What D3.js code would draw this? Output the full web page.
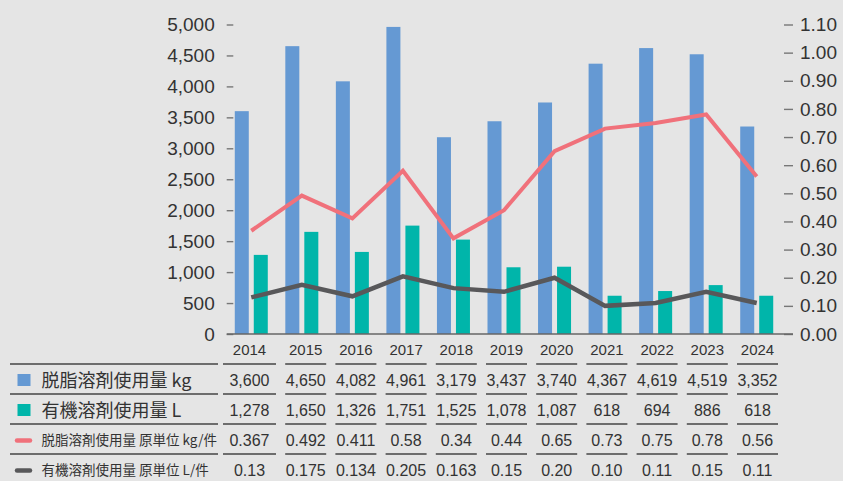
<!DOCTYPE html>
<html>
<head>
<meta charset="utf-8">
<script src="https://cdn.jsdelivr.net/npm/d3@7"></script>
<style>
  body { margin: 0; background: #e5e5e5; }
  svg { display: block; }
</style>
</head>
<body>
<script>
const wdth = 843;
const hght = 481;

// data
const years = ["2014", "2015", "2016", "2017", "2018", "2019", "2020", "2021", "2022", "2023", "2024"];
const degreaseKg = [3600, 4650, 4082, 4961, 3179, 3437, 3740, 4367, 4619, 4519, 3352];
const organicL = [1278, 1650, 1326, 1751, 1525, 1078, 1087, 618, 694, 790, 618];
const degreaseRate = [0.367, 0.492, 0.411, 0.58, 0.34, 0.44, 0.65, 0.73, 0.75, 0.78, 0.56];
const organicRate = [0.13, 0.175, 0.134, 0.205, 0.163, 0.15, 0.20, 0.10, 0.11, 0.15, 0.11];

const leftTicks = [0, 500, 1000, 1500, 2000, 2500, 3000, 3500, 4000, 4500, 5000];
const rightTicks = [0, 0.1, 0.2, 0.3, 0.4, 0.5, 0.6, 0.7, 0.8, 0.9, 1.0, 1.1];

const tableRows = [
  { label: "脱脂溶剤使用量 kg", mark: "rect", color: "#6599d3", big: true,
    cells: ["3,600", "4,650", "4,082", "4,961", "3,179", "3,437", "3,740", "4,367", "4,619", "4,519", "3,352"] },
  { label: "有機溶剤使用量 L", mark: "rect", color: "#00b5aa", big: true,
    cells: ["1,278", "1,650", "1,326", "1,751", "1,525", "1,078", "1,087", "618", "694", "886", "618"] },
  { label: "脱脂溶剤使用量 原単位 kg/件", mark: "line", color: "#f0717b", big: false,
    cells: ["0.367", "0.492", "0.411", "0.58", "0.34", "0.44", "0.65", "0.73", "0.75", "0.78", "0.56"] },
  { label: "有機溶剤使用量 原単位 L/件", mark: "line", color: "#58585a", big: false,
    cells: ["0.13", "0.175", "0.134", "0.205", "0.163", "0.15", "0.20", "0.10", "0.11", "0.15", "0.11"] }
];

const latinFont = "'Liberation Sans', Arial, sans-serif";
const cjkFont = "'Noto Sans CJK JP', sans-serif";
const textColor = "#333";

const plotLeft = 226.7;
const plotRight = 793;
const plotTop = 24.5;
const plotBottom = 334;

const svg = d3.select("body")
  .append("svg")
  .attr("width", wdth)
  .attr("height", hght);

svg.append("rect")
  .attr("width", wdth)
  .attr("height", hght)
  .attr("fill", "#e5e5e5");

// scales
const xBand = d3.scaleBand()
  .domain(years)
  .range([226, 782]);

const xSub = d3.scaleBand()
  .domain(["kg", "L"])
  .range([-16.5, 16.5])
  .paddingInner(0.263);

const yLeft = d3.scaleLinear().domain([0, 5000]).range([plotBottom, plotTop]);
const yRight = d3.scaleLinear().domain([0, 1.1]).range([plotBottom, plotTop]);

const tableX = d3.scalePoint().domain(years).range([255.5, 757.5]);
const colHalf = 20.5;
const colStart = (d, i) => i === 0 ? 223 : tableX(d) - colHalf;
const colEnd = (d) => tableX(d) + colHalf;
const colMid = (d, i) => (colStart(d, i) + colEnd(d)) / 2;

const center = (d) => xBand(d) + xBand.bandwidth() / 2;

// left axis
const leftAxis = svg.append("g")
  .attr("transform", "translate(233.3,0)")
  .call(d3.axisLeft(yLeft).tickValues(leftTicks).tickFormat(d3.format(",")).tickSize(6.6).tickPadding(12));
leftAxis.select(".domain").remove();
leftAxis.selectAll(".tick line").attr("stroke", "#777").attr("stroke-width", 1.4);
leftAxis.selectAll(".tick text")
  .attr("fill", textColor)
  .style("font-family", latinFont)
  .style("font-size", "19px");

// right axis
const rightAxis = svg.append("g")
  .attr("transform", "translate(784,0)")
  .call(d3.axisRight(yRight).tickValues(rightTicks).tickFormat(d3.format(".2f")).tickSize(9).tickPadding(7));
rightAxis.select(".domain").remove();
rightAxis.selectAll(".tick line").attr("stroke", "#777").attr("stroke-width", 1.4);
rightAxis.selectAll(".tick text")
  .attr("fill", textColor)
  .style("font-family", latinFont)
  .style("font-size", "19px");

// bars
svg.append("g")
  .selectAll("rect")
  .data(years)
  .enter()
  .append("rect")
  .attr("x", (d) => center(d) + xSub("kg"))
  .attr("width", xSub.bandwidth())
  .attr("y", (d, i) => yLeft(degreaseKg[i]))
  .attr("height", (d, i) => yLeft(0) - yLeft(degreaseKg[i]))
  .attr("fill", tableRows[0].color);

svg.append("g")
  .selectAll("rect")
  .data(years)
  .enter()
  .append("rect")
  .attr("x", (d) => center(d) + xSub("L"))
  .attr("width", xSub.bandwidth())
  .attr("y", (d, i) => yLeft(organicL[i]))
  .attr("height", (d, i) => yLeft(0) - yLeft(organicL[i]))
  .attr("fill", tableRows[1].color);

// baseline
svg.append("line")
  .attr("x1", plotLeft)
  .attr("x2", plotRight)
  .attr("y1", yLeft(0))
  .attr("y2", yLeft(0))
  .attr("stroke", "#666")
  .attr("stroke-width", 1.5);

// lines
const rateLine = (values) => d3.line()
  .x((d) => center(d))
  .y((d, i) => yRight(values[i]))(years);

svg.append("path")
  .attr("d", rateLine(degreaseRate))
  .attr("fill", "none")
  .attr("stroke", tableRows[2].color)
  .attr("stroke-width", 4);

svg.append("path")
  .attr("d", rateLine(organicRate))
  .attr("fill", "none")
  .attr("stroke", tableRows[3].color)
  .attr("stroke-width", 4.5);

// year labels
svg.append("g")
  .selectAll("text")
  .data(years)
  .enter()
  .append("text")
  .text((d) => d)
  .attr("x", colMid)
  .attr("y", 350)
  .attr("dy", "0.35em")
  .attr("text-anchor", "middle")
  .attr("fill", textColor)
  .style("font-family", latinFont)
  .style("font-size", "15px");

// data table
const rowTop = 364;
const rowH = 30;

const rows = svg.append("g")
  .selectAll("g")
  .data(tableRows)
  .enter()
  .append("g")
  .attr("transform", (d, i) => "translate(0," + (rowTop + rowH * i) + ")");

rows.append("line")
  .attr("x1", 10)
  .attr("x2", 218)
  .attr("stroke", "#444")
  .attr("stroke-width", 1.3);

rows.selectAll(".col-line")
  .data(years)
  .enter()
  .append("line")
  .attr("class", "col-line")
  .attr("x1", colStart)
  .attr("x2", colEnd)
  .attr("stroke", "#444")
  .attr("stroke-width", 1.3);

rows.filter((d) => d.mark === "rect")
  .append("rect")
  .attr("x", 17.5)
  .attr("y", 10)
  .attr("width", 13)
  .attr("height", 12)
  .attr("fill", (d) => d.color);

rows.filter((d) => d.mark === "line")
  .append("line")
  .attr("x1", 17)
  .attr("x2", 30)
  .attr("y1", 16.5)
  .attr("y2", 16.5)
  .attr("stroke", (d) => d.color)
  .attr("stroke-width", 4.5)
  .attr("stroke-linecap", "round");

rows.append("text")
  .text((d) => d.label)
  .attr("x", 41.5)
  .attr("y", 16.5)
  .attr("dy", "0.36em")
  .attr("fill", textColor)
  .style("font-family", cjkFont)
  .style("font-size", (d) => d.big ? "18px" : "13.5px");

rows.each(function (row) {
  d3.select(this)
    .selectAll(".cell")
    .data(years)
    .enter()
    .append("text")
    .attr("class", "cell")
    .text((d, i) => row.cells[i])
    .attr("x", colMid)
    .attr("y", 16.5)
    .attr("dy", "0.36em")
    .attr("text-anchor", "middle")
    .attr("fill", textColor)
    .style("font-family", latinFont)
    .style("font-size", "16px");
});
</script>
</body>
</html>
